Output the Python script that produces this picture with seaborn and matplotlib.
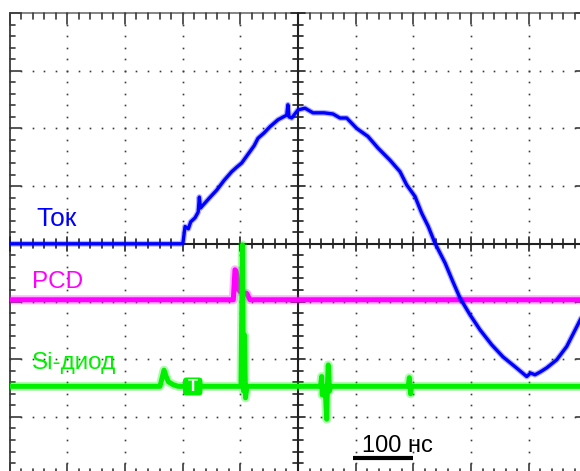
import matplotlib
matplotlib.use("Agg")
import matplotlib.pyplot as plt
from matplotlib.patches import FancyBboxPatch
from matplotlib.transforms import IdentityTransform
import numpy as np
import pandas as pd
import seaborn as sns

sns.set_theme(style="white")
plt.rcParams["font.family"] = ["Liberation Sans", "DejaVu Sans"]

# Time in ns, signal level in screen divisions (0 = centre line)
tok_t = [0, 298, 300.7, 304.2, 310, 314, 321.5, 327, 329, 331, 335.4, 347, 359.1,
         372, 385.1, 394, 402.4, 416.8, 424, 430.7, 441, 451.5, 465.3, 480.4, 482.5,
         484.5, 489.1, 500, 512.1, 526, 545, 560.7, 572.8, 584.4, 601.7, 621.3,
         638.6, 659.4, 676.8, 688.4, 702.8, 714.4, 725.8, 737.4, 754.8, 768.6,
         780.8, 798.1, 815.4, 835.7, 855.3, 876.1, 896.4, 903, 910.7, 920, 931,
         948.4, 965.7, 983, 1000]
tok_v = [0, 0, 0.02, 0.30, 0.26, 0.38, 0.45, 0.55, 0.81, 0.62, 0.67, 0.80, 0.93,
         1.10, 1.25, 1.33, 1.40, 1.60, 1.70, 1.83, 1.92, 2.03, 2.15, 2.23, 2.41,
         2.20, 2.18, 2.32, 2.35, 2.27, 2.27, 2.25, 2.18, 2.18, 2.00, 1.86,
         1.66, 1.45, 1.25, 1.02, 0.82, 0.53, 0.30, 0.01, -0.33, -0.66,
         -0.94, -1.23, -1.49, -1.75, -1.96, -2.13, -2.30, -2.24, -2.27, -2.22, -2.15,
         -2.01, -1.78, -1.44, -1.10]

pcd_t = [0, 387.9, 390.8, 392.5, 394.3, 396.5, 399.5, 411, 416.8, 1000]
pcd_v = [-0.97, -0.97, -0.45, -0.47, -0.55, -0.78, -0.83, -0.86, -0.97, -0.97]

si_t = [0, 260.8, 263.8, 267.8, 271.2, 275.2, 283.4, 292, 401.2, 403.8, 405.5,
        407.3, 409, 411.6, 539, 541, 542, 547, 549.7, 551, 552.5, 554.5, 557, 691,
        693, 695, 697, 1000]
si_v = [-2.47, -2.47, -2.35, -2.19, -2.29, -2.39, -2.44, -2.47, -2.47, -0.02, -2.55,
        -1.58, -2.67, -2.47, -2.47, -2.30, -2.62, -2.47, -3.04, -2.45, -2.10, -2.55,
        -2.47, -2.47, -2.32, -2.60, -2.47, -2.47]

channel_names = ["Ток", "PCD", "Si-диод"]
channel_colors = ["#0000ff", "#ff00ff", "#00f000"]
scale_label = "100 нс"

W, H = 580, 471
DIV = 57.7             # pixels per division
LEFT, TOP = 9.5, 13.0  # screen origin in pixels

fig = plt.figure(figsize=(W / 100, H / 100), dpi=100)
fig.patch.set_facecolor("white")
ax = fig.add_axes([LEFT / W, (H - TOP - 8 * DIV) / H, 10 * DIV / W, 8 * DIV / H])
ax.set_xlim(0, 1000)
ax.set_ylim(-4, 4)
ax.axis("off")

px_t = 100 / DIV   # ns per pixel
px_v = 1 / DIV     # divisions per pixel
gcol = "#3a3a3a"

# dotted graticule
for t in range(100, 1000, 100):
    if t == 500:
        continue
    vs = np.arange(-4, 4.001, 0.2)
    ax.plot([t] * len(vs), vs, ls="none", marker="s", ms=1.2, mew=0, color=gcol, clip_on=False)
for v in range(-3, 4):
    if v == 0:
        continue
    ts = np.arange(0, 1000.1, 20)
    ax.plot(ts, [v] * len(ts), ls="none", marker="s", ms=1.2, mew=0, color=gcol, clip_on=False)

# frame
ax.plot([0, 0], [-4, 4], color=gcol, lw=1.3, clip_on=False)
ax.plot([0, 1000], [4, 4], color="#707070", lw=1.2, clip_on=False)
ax.plot([1000, 1000], [-4, 4], color=gcol, lw=1.3, clip_on=False)
ax.plot([0, 1000], [-4, -4], color=gcol, lw=1.3, clip_on=False)

# edge ticks
for i in range(0, 51):
    t = i * 20
    ln = 11 if i % 5 == 0 else 5.5
    ax.plot([t, t], [4, 4 - ln * px_v], color=gcol, lw=1.2, clip_on=False)
    ax.plot([t, t], [-4, -4 + ln * px_v], color=gcol, lw=1.2, clip_on=False)
for i in range(0, 41):
    v = -4 + i * 0.2
    ln = 11 if i % 5 == 0 else 5.5
    ax.plot([0, ln * px_t], [v, v], color=gcol, lw=1.2, clip_on=False)
    ax.plot([1000, 1000 - ln * px_t], [v, v], color=gcol, lw=1.2, clip_on=False)

# centre cross with ticks
ax.plot([500, 500], [-4, 4], color="#202020", lw=1.5, clip_on=False)
ax.plot([0, 1000], [0, 0], color="#202020", lw=1.5, clip_on=False)
for i in range(0, 51):
    t = i * 20
    ln = 7 if i % 5 == 0 else 4.5
    ax.plot([t, t], [-ln * px_v, ln * px_v], color="#202020", lw=1.2, clip_on=False)
for i in range(0, 41):
    v = -4 + i * 0.2
    ln = 7 if i % 5 == 0 else 5
    ax.plot([500 - ln * px_t, 500 + ln * px_t], [v, v], color="#202020", lw=1.2, clip_on=False)

# traces: a faint wide halo under each line gives the noisy band look
pcd = pd.DataFrame({"t": pcd_t, "v": pcd_v})
si = pd.DataFrame({"t": si_t, "v": si_v})
tok = pd.DataFrame({"t": tok_t, "v": tok_v})
traces = [(pcd, channel_colors[1], 3.6, 6.5, 3),
          (si, channel_colors[2], 3.6, 6.5, 4),
          (tok, channel_colors[0], 2.4, 4.2, 5)]
for df, col, lw, halo, z in traces:
    sns.lineplot(data=df, x="t", y="v", color=col, lw=halo, alpha=0.3,
                 estimator=None, sort=False, ax=ax, zorder=z)
    sns.lineplot(data=df, x="t", y="v", color=col, lw=lw,
                 estimator=None, sort=False, ax=ax, zorder=z + 0.5)
ax.set_xlim(0, 1000)
ax.set_ylim(-4, 4)
ax.axis("off")

# trigger marker on the Si trace
ident = IdentityTransform()
mk = FancyBboxPatch((183, H - 395.5), 19.5, 18, boxstyle="round,pad=0,rounding_size=3.5",
                    transform=ident, facecolor=channel_colors[2], edgecolor="none",
                    zorder=8, clip_on=False)
ax.add_artist(mk)
ax.text(192.8, H - 386.5, "T", transform=ident, color="white", fontsize=12,
        fontweight="bold", ha="center", va="center", zorder=9, clip_on=False)

# channel labels
fig.text(36.5 / W, 1 - 226.5 / H, channel_names[0], color=channel_colors[0], fontsize=19,
         ha="left", va="baseline")
fig.text(32.5 / W, 1 - 288.3 / H, channel_names[1], color=channel_colors[1], fontsize=17.5,
         ha="left", va="baseline")
fig.text(31.5 / W, 1 - 369.5 / H, channel_names[2], color=channel_colors[2], fontsize=17.5,
         ha="left", va="baseline")

# time scale bar (one division)
ax.plot([596, 700], [-3.72, -3.72], color="black", lw=3, solid_capstyle="butt", clip_on=False)
fig.text(361.5 / W, 1 - 451.7 / H, scale_label, color="black", fontsize=17,
         ha="left", va="baseline")

fig.savefig("out.png", dpi=100)
